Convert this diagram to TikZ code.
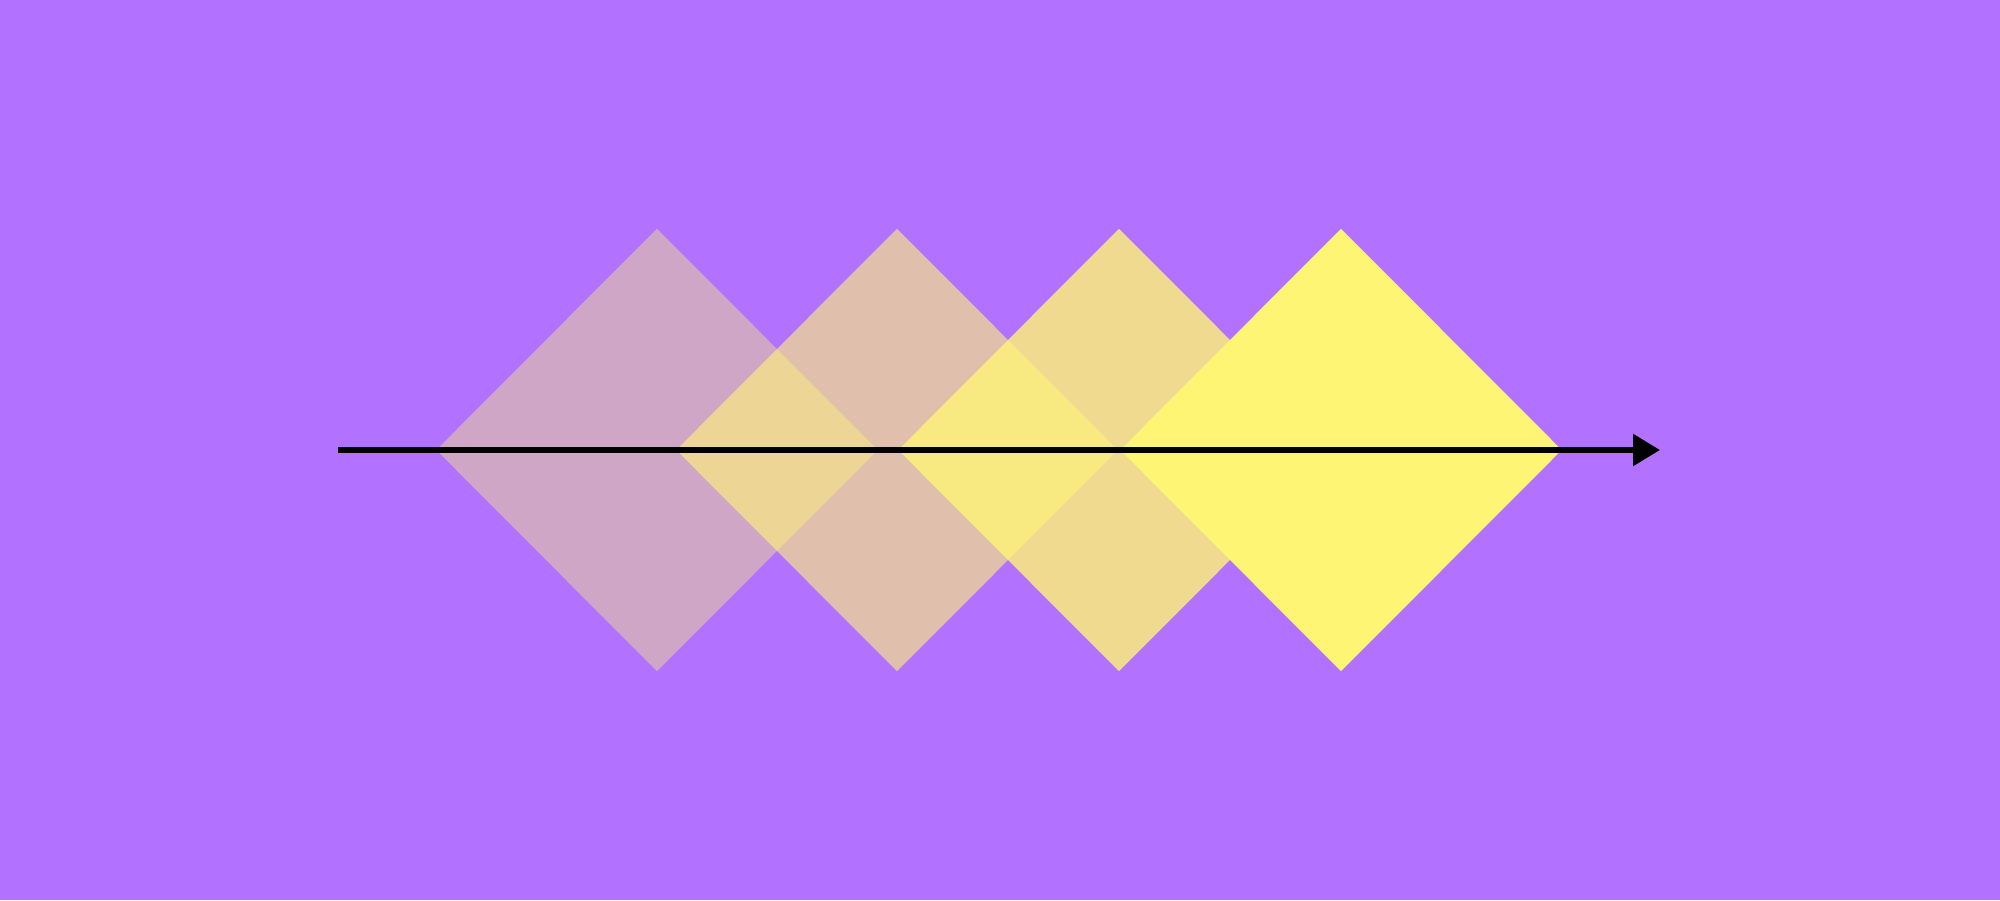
\documentclass[tikz,border=0pt]{standalone}
\usetikzlibrary{shapes.geometric,arrows.meta}

\definecolor{bgpurple}{RGB}{178,114,255}
\definecolor{lemon}{RGB}{255,245,117}

\tikzset{
  tile/.style={diamond,aspect=1,inner sep=0pt,minimum width=4.42cm,minimum height=4.43cm,draw=none,fill=lemon},
  timeline/.style={line width=1.6pt,-{Triangle[length=2.7mm,width=3.1mm]}}
}

\begin{document}
\begin{tikzpicture}
\fill[bgpurple] (0,0) rectangle (20,9);

\node[tile,fill opacity=0.4] (d1) at (6.57,4.5) {};
\node[tile,fill opacity=0.6] (d2) at (8.97,4.5) {};
\node[tile,fill opacity=0.8] (d3) at (11.19,4.5) {};
\node[tile] (d4) at (13.41,4.5) {};

\coordinate (t0) at (3.38,4.5);
\coordinate (t1) at (16.60,4.5);
\draw[timeline] (t0) -- (t1);

\end{tikzpicture}
\end{document}
